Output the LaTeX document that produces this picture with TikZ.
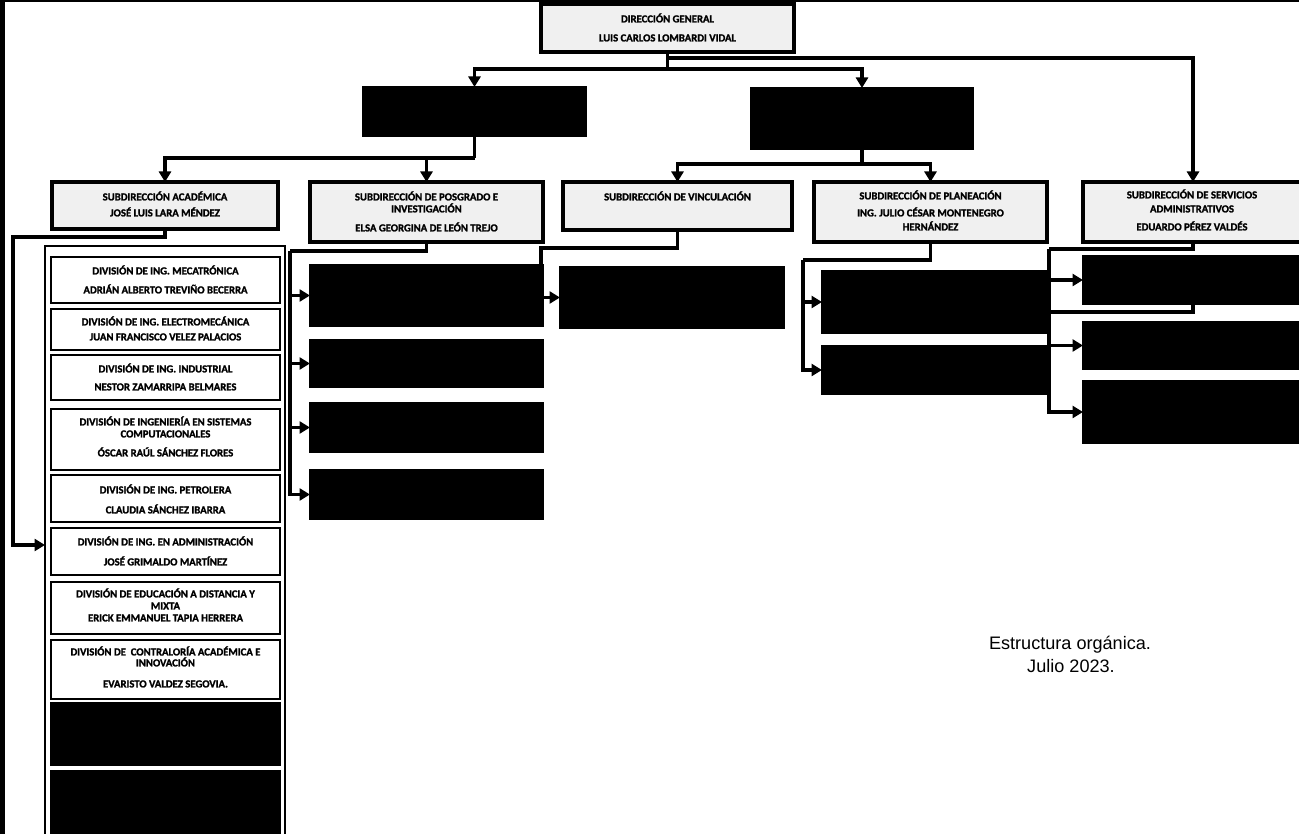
\documentclass[tikz,border=0pt]{standalone}
\usepackage{fontspec}
\setmainfont{Liberation Sans}
\newfontfamily\boxfamily[FakeBold=1.5]{Carlito Bold}
\usetikzlibrary{arrows.meta}
\newcommand{\orgbox}[6]{%
  \node[#6, anchor=north west, minimum width={(#4-#2)*0.02cm}, minimum height={(#5-#3)*0.02cm}] (#1) at (#2,#3) {};}
\newcommand{\tline}[4]{\node[txt] (#1) at (#2,#3) {#4};}
\begin{document}
\begin{tikzpicture}[x=0.02cm,y=-0.02cm,
  every node/.style={inner sep=0pt, outer sep=0pt},
  conn/.style={line width=1.8pt},
  arr/.style={conn, -{Triangle[length=0.21cm,width=0.24cm]}},
  wbox/.style={draw=black, line width=2.2pt, fill=gray!12},
  dbox/.style={draw=black, line width=1.6pt, fill=white},
  kbox/.style={draw=black, line width=1.2pt, fill=black},
  txt/.style={font=\boxfamily\fontsize{6.1}{7}\selectfont, text height=3.9pt, text depth=0pt, anchor=center},
  captxt/.style={font=\fontsize{10.3}{13}\selectfont, text height=7.4pt, text depth=0pt, anchor=center},
]
\useasboundingbox (0,0) rectangle (1299,834);
\fill[white] (0,0) rectangle (1299,834);
% frame of the page
\draw[line width=2.8pt] (2.5,0) -- (2.5,834);
\draw[line width=1.2pt] (0,1) -- (1299,1);

% ---- boxes ----
\orgbox{dg}{541}{4}{794}{52}{wbox}
\orgbox{da}{363}{87}{586}{136}{kbox}
\orgbox{db}{751}{88}{973}{149}{kbox}

\orgbox{acad}{52}{182}{278}{229}{wbox}
\orgbox{posg}{310}{182}{543}{242}{wbox}
\orgbox{vinc}{563}{182}{792}{230}{wbox}
\orgbox{plan}{814}{182}{1047}{242}{wbox}
\orgbox{serv}{1083}{182}{1303}{242}{wbox}

% divisions
\orgbox{cont}{45}{246}{285}{850}{dbox}
\orgbox{d1}{51}{257}{280}{303}{dbox}
\orgbox{d2}{51}{309}{280}{350}{dbox}
\orgbox{d3}{51}{355}{280}{400}{dbox}
\orgbox{d4}{51}{409}{280}{470}{dbox}
\orgbox{d5}{51}{475}{280}{522}{dbox}
\orgbox{d6}{51}{528}{280}{575}{dbox}
\orgbox{d7}{51}{582}{280}{634}{dbox}
\orgbox{d8}{51}{640}{280}{699}{dbox}
\orgbox{d9}{51}{703}{280}{765}{kbox}
\orgbox{d10}{51}{771}{280}{845}{kbox}

% posgrado
\orgbox{pb1}{310}{265}{543}{326}{kbox}
\orgbox{pb2}{310}{340}{543}{387}{kbox}
\orgbox{pb3}{310}{403}{543}{452}{kbox}
\orgbox{pb4}{310}{470}{543}{519}{kbox}
% vinculacion
\orgbox{vb}{560}{267}{784}{328}{kbox}
% planeacion
\orgbox{qb1}{822}{271}{1047}{333}{kbox}
\orgbox{qb2}{822}{346}{1047}{394}{kbox}
% servicios
\orgbox{sb1}{1083}{256}{1303}{304}{kbox}
\orgbox{sb2}{1083}{322}{1303}{369}{kbox}
\orgbox{sb3}{1083}{381}{1303}{443}{kbox}

% ---- texts ----
\tline{dgA}{667.5}{19}{DIRECCIÓN GENERAL}
\tline{dgB}{667.5}{38}{LUIS CARLOS LOMBARDI VIDAL}

\tline{acA}{165}{197}{SUBDIRECCIÓN ACADÉMICA}
\tline{acB}{165}{213}{JOSÉ LUIS LARA MÉNDEZ}

\tline{poA}{426.5}{197}{SUBDIRECCIÓN DE POSGRADO E}
\tline{poB}{426.5}{209}{INVESTIGACIÓN}
\tline{poC}{426.5}{228}{ELSA GEORGINA DE LEÓN TREJO}

\tline{viA}{677.5}{197}{SUBDIRECCIÓN DE VINCULACIÓN}

\tline{plA}{930.5}{196}{SUBDIRECCIÓN DE PLANEACIÓN}
\tline{plB}{930.5}{213}{ING. JULIO CÉSAR MONTENEGRO}
\tline{plC}{930.5}{227}{HERNÁNDEZ}

\tline{seA}{1192}{195}{SUBDIRECCIÓN DE SERVICIOS}
\tline{seB}{1192}{209}{ADMINISTRATIVOS}
\tline{seC}{1192}{227}{EDUARDO PÉREZ VALDÉS}

\tline{d1A}{165.5}{271}{DIVISIÓN DE ING. MECATRÓNICA}
\tline{d1B}{165.5}{290}{ADRIÁN ALBERTO TREVIÑO BECERRA}
\tline{d2A}{165.5}{322}{DIVISIÓN DE ING. ELECTROMECÁNICA}
\tline{d2B}{165.5}{337}{JUAN FRANCISCO VELEZ PALACIOS}
\tline{d3A}{165.5}{369}{DIVISIÓN DE ING. INDUSTRIAL}
\tline{d3B}{165.5}{387}{NESTOR ZAMARRIPA BELMARES}
\tline{d4A}{165.5}{422}{DIVISIÓN DE INGENIERÍA EN SISTEMAS}
\tline{d4B}{165.5}{434}{COMPUTACIONALES}
\tline{d4C}{165.5}{453}{ÓSCAR RAÚL SÁNCHEZ FLORES}
\tline{d5A}{165.5}{490}{DIVISIÓN DE ING. PETROLERA}
\tline{d5B}{165.5}{510}{CLAUDIA SÁNCHEZ IBARRA}
\tline{d6A}{165.5}{542}{DIVISIÓN DE ING. EN ADMINISTRACIÓN}
\tline{d6B}{165.5}{562}{JOSÉ GRIMALDO MARTÍNEZ}
\tline{d7A}{165.5}{594}{DIVISIÓN DE EDUCACIÓN A DISTANCIA Y}
\tline{d7B}{165.5}{606}{MIXTA}
\tline{d7C}{165.5}{618}{ERICK EMMANUEL TAPIA HERRERA}
\tline{d8A}{165.5}{652}{DIVISIÓN DE\ \ CONTRALORÍA ACADÉMICA E}
\tline{d8B}{165.5}{663}{INNOVACIÓN}
\tline{d8C}{165.5}{684}{EVARISTO VALDEZ SEGOVIA.}

\node[captxt] (capA) at (1070,643) {Estructura orgánica.};
\node[captxt] (capB) at (1071,666) {Julio 2023.};

% ---- connectors ----
\coordinate (j0) at (667.5,58);
\coordinate (j1) at (667.5,69);
\draw[conn] (dg.south) -- (j1);
\draw[arr] (j1) -| (da.north);
\draw[arr] (j1) -| (db.north);
\draw[arr] (j0) -| (serv.north);

\coordinate (j2) at (474.5,158);
\draw[conn] (da.south) -- (j2);
\draw[arr] (j2) -| (acad.north);
\draw[arr] (j2) -| (posg.north);

\coordinate (j3) at (862,164);
\draw[conn] (db.south) -- (j3);
\draw[arr] (j3) -| (vinc.north);
\draw[arr] (j3) -| (plan.north);

% academica to divisions
\coordinate (a2) at (13,237);
\coordinate (a3) at (45,545);
\draw[arr] (acad.south) |- (a2) |- (a3);

% posgrado
\coordinate (p0) at (290,251);
\draw[conn] (posg.south) |- (p0);
\draw[arr] (p0) |- (pb1.west);
\draw[arr] (p0) |- (pb2.west);
\draw[arr] (p0) |- (pb3.west);
\draw[arr] (p0) |- (pb4.west);

% vinculacion
\coordinate (v0) at (541,248);
\draw[arr] (vinc.south) |- (v0) |- (vb.west);

% planeacion
\coordinate (q0) at (803,260);
\draw[conn] (plan.south) |- (q0);
\draw[arr] (q0) |- (qb1.west);
\draw[arr] (q0) |- (qb2.west);

% servicios
\coordinate (s0) at (1049,249);
\coordinate (s1) at (1049,312);
\draw[conn] (serv.south) |- (s0);
\draw[arr] (s0) |- (sb1.west);
\draw[arr] (s0) |- (sb2.west);
\draw[arr] (s0) |- (sb3.west);
\draw[conn] (sb1.south) |- (s1);
\end{tikzpicture}
\end{document}
